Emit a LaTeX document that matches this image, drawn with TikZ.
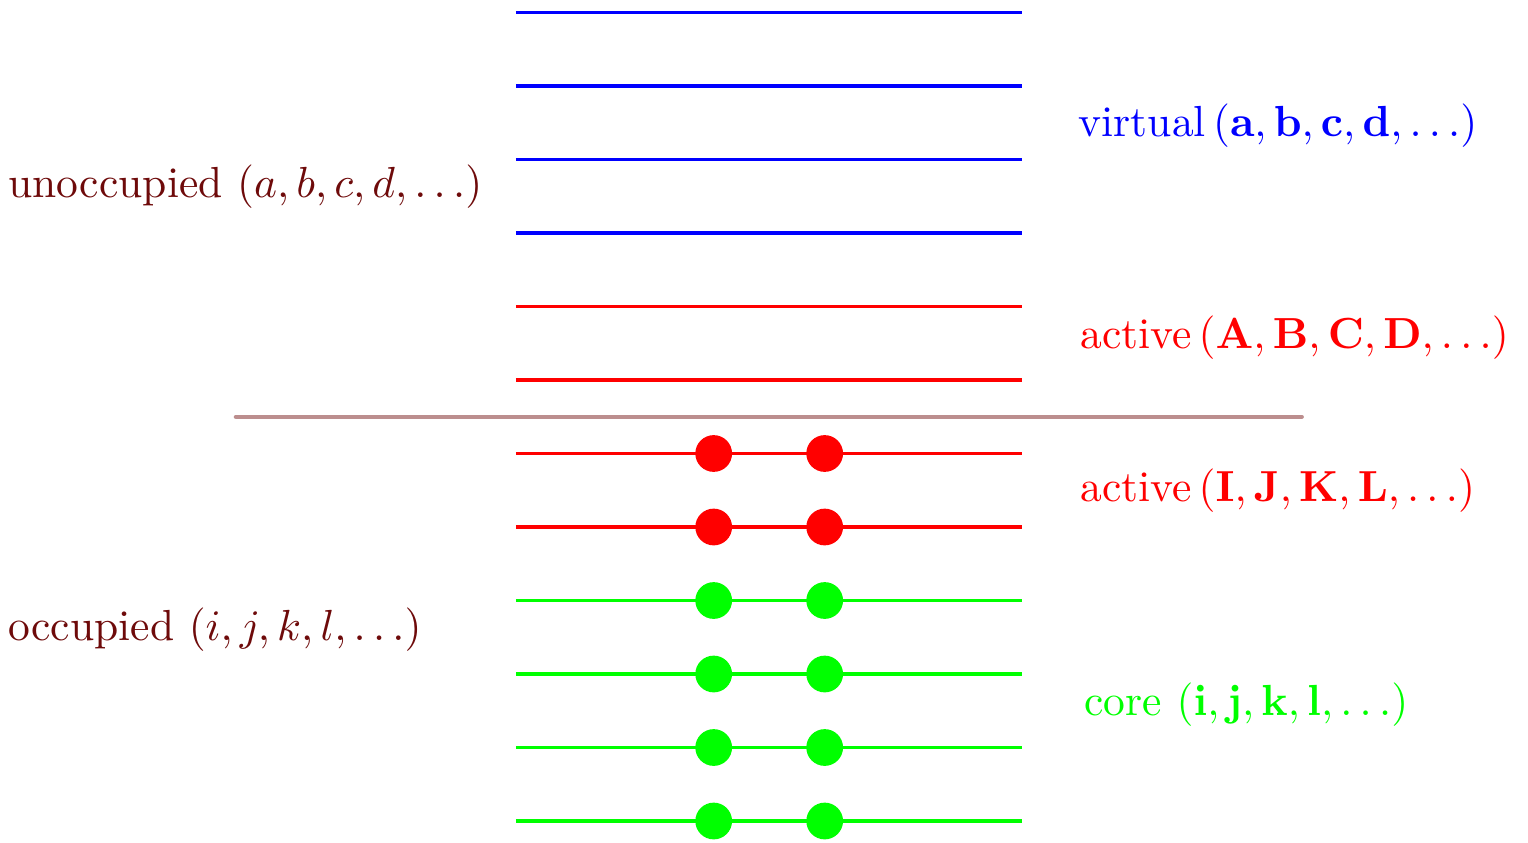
\documentclass[tikz,border=0pt]{standalone}
\usepackage{amsmath}
\usetikzlibrary{positioning}
\definecolor{cV}{HTML}{0000FF}
\definecolor{cA}{HTML}{FF0000}
\definecolor{cC}{HTML}{00FF00}
\definecolor{cO}{HTML}{6E0A0A}
\definecolor{cS}{HTML}{BC8E8E}
\newcommand{\labtext}[1]{\scalebox{1.685}{\normalsize #1}}
\tikzset{
  level/.style={line width=1.35pt},
  fermi/.style={line width=1.7pt,line cap=round,cS},
  elec/.style={circle,inner sep=0pt,minimum size=5mm},
  lab/.style={anchor=west,inner sep=0pt},
}
\begin{document}
\begin{tikzpicture}
  \useasboundingbox (-7.020,-0.286) rectangle (13.769,11.170);
  % orbital levels: core, active occupied, active virtual, virtual
  \foreach \i/\c in {0/cC,1/cC,2/cC,3/cC,4/cA,5/cA,6/cA,7/cA,8/cV,9/cV,10/cV,11/cV}{
    \coordinate (l\i) at (0,\i);
    \coordinate (r\i) at (6.88,\i);
    \draw[level,\c] (l\i) -- (r\i);
  }
  % electron pairs in the occupied levels
  \foreach \i/\c in {0/cC,1/cC,2/cC,3/cC,4/cA,5/cA}{
    \node[elec,fill=\c] (ea\i) at (2.69,\i){};
    \node[elec,fill=\c] (eb\i) at (4.20,\i){};
  }
  % Fermi level
  \coordinate (fl) at (-3.81,5.5);
  \coordinate (fr) at (10.69,5.5);
  \draw[fermi] (fl) -- (fr);
  % labels
  \node[lab,text=cO] (unocc) at (-6.91,8.63){\labtext{unoccupied $(a,b,c,d,\ldots)$}};
  \node[lab,text=cO] (occ) at (-6.91,2.61){\labtext{occupied $(i,j,k,l,\ldots)$}};
  \node[lab,text=cV] (virt) at (7.65,9.46){\labtext{virtual\,$(\mathbf{a},\mathbf{b},\mathbf{c},\mathbf{d},\ldots)$}};
  \node[lab,text=cA] (actv) at (7.67,6.57){\labtext{active\,$(\mathbf{A},\mathbf{B},\mathbf{C},\mathbf{D},\ldots)$}};
  \node[lab,text=cA] (acto) at (7.67,4.49){\labtext{active\,$(\mathbf{I},\mathbf{J},\mathbf{K},\mathbf{L},\ldots)$}};
  \node[lab,text=cC] (core) at (7.73,1.59){\labtext{core $(\mathbf{i},\mathbf{j},\mathbf{k},\mathbf{l},\ldots)$}};
\end{tikzpicture}
\end{document}
